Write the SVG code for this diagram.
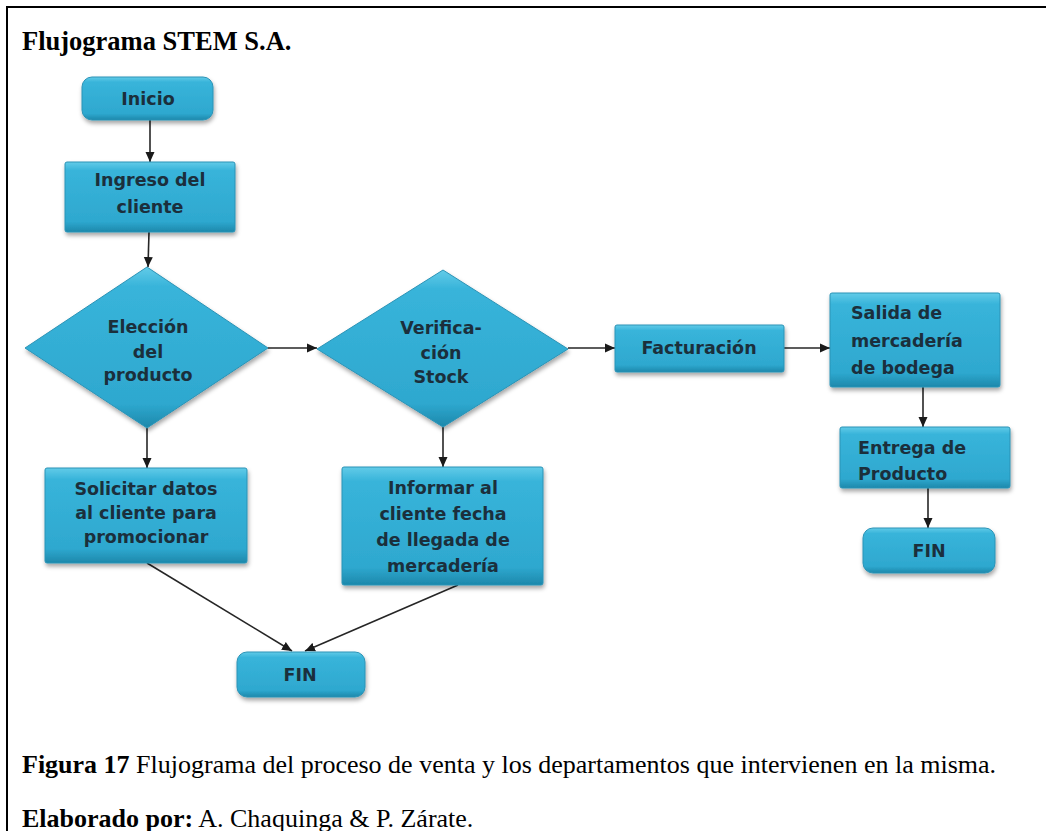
<svg xmlns="http://www.w3.org/2000/svg" width="1046" height="831" viewBox="0 0 1046 831">
  <style>
    .frame { stroke: #000; stroke-width: 2; fill: none; }
    .title { font-family: "Liberation Serif", "Times New Roman", serif; font-weight: bold; font-size: 26.5px; fill: #000; }
    .cap { font-family: "Liberation Serif", "Times New Roman", serif; font-size: 26px; fill: #000; }
    .capb { font-weight: bold; }
    .box { fill: url(#boxFill); stroke: #2b93b6; stroke-width: 1; filter: url(#shadow); }
    .lbl { font-family: "DejaVu Sans", "Liberation Sans", sans-serif; font-weight: bold; font-size: 17.5px; fill: #1b2f3c; }
    .mid { text-anchor: middle; }
    .edge { stroke: #262626; stroke-width: 1.6; fill: none; marker-end: url(#arrow); }
  </style>
  <defs>
    <linearGradient id="boxFill" x1="0" y1="0" x2="0" y2="1">
      <stop offset="0" stop-color="#62cbe8"/>
      <stop offset="0.12" stop-color="#38b4da"/>
      <stop offset="0.85" stop-color="#2ea8cf"/>
      <stop offset="1" stop-color="#1d88ab"/>
    </linearGradient>
    <filter id="shadow" x="-10%" y="-10%" width="120%" height="130%">
      <feDropShadow dx="1" dy="3" stdDeviation="2" flood-color="#000" flood-opacity="0.35"/>
    </filter>
    <marker id="arrow" viewBox="0 0 10 10" refX="10" refY="5" markerWidth="10" markerHeight="10" markerUnits="userSpaceOnUse" orient="auto">
      <path d="M0,0.5 L10,5 L0,9.5 z" fill="#1a1a1a"/>
    </marker>
  </defs>

  <rect width="1046" height="831" fill="#fff"/>
  <!-- page frame -->
  <path class="frame" d="M7,831 V7 H1046"/>

  <text class="title" x="22" y="50">Flujograma STEM S.A.</text>

  <!-- connectors -->
  <g id="connectors">
    <line class="edge" x1="150" y1="120" x2="150" y2="162"/>
    <line class="edge" x1="149" y1="232" x2="148" y2="267"/>
    <line class="edge" x1="268" y1="348" x2="317" y2="348"/>
    <line class="edge" x1="568" y1="348" x2="615" y2="348"/>
    <line class="edge" x1="784" y1="348" x2="830" y2="348"/>
    <line class="edge" x1="923" y1="387" x2="923" y2="427"/>
    <line class="edge" x1="928" y1="488" x2="928" y2="528"/>
    <line class="edge" x1="147" y1="428" x2="147" y2="468"/>
    <line class="edge" x1="443" y1="427" x2="443" y2="467"/>
    <line class="edge" x1="147" y1="563" x2="292" y2="651"/>
    <line class="edge" x1="458" y1="585" x2="305" y2="651"/>
  </g>

  <g id="inicio">
    <rect class="box" x="82" y="77" width="131" height="43" rx="10"/>
    <text class="lbl mid" x="148" y="105">Inicio</text>
  </g>

  <g id="ingreso">
    <rect class="box" x="65" y="162" width="170" height="70" rx="2"/>
    <text class="lbl mid" x="150" y="186">Ingreso del</text>
    <text class="lbl mid" x="150" y="213">cliente</text>
  </g>

  <g id="eleccion">
    <polygon class="box" points="147,267 268,348 147,428 25,348"/>
    <text class="lbl mid" x="148" y="333">Elección</text>
    <text class="lbl mid" x="148" y="358">del</text>
    <text class="lbl mid" x="148" y="381">producto</text>
  </g>

  <g id="verificacion">
    <polygon class="box" points="443,270 568,349 443,427 317,349"/>
    <text class="lbl mid" x="441" y="334">Verifica-</text>
    <text class="lbl mid" x="441" y="359">ción</text>
    <text class="lbl mid" x="441" y="383">Stock</text>
  </g>

  <g id="facturacion">
    <rect class="box" x="615" y="325" width="169" height="47" rx="2"/>
    <text class="lbl mid" x="699" y="354">Facturación</text>
  </g>

  <g id="salida">
    <rect class="box" x="830" y="293" width="170" height="94" rx="2"/>
    <text class="lbl" x="851" y="319">Salida de</text>
    <text class="lbl" x="851" y="347">mercadería</text>
    <text class="lbl" x="851" y="374">de bodega</text>
  </g>

  <g id="entrega">
    <rect class="box" x="840" y="427" width="170" height="61" rx="2"/>
    <text class="lbl" x="858" y="454">Entrega de</text>
    <text class="lbl" x="858" y="480">Producto</text>
  </g>

  <g id="fin-derecha">
    <rect class="box" x="863" y="528" width="132" height="45" rx="10"/>
    <text class="lbl mid" x="929" y="557">FIN</text>
  </g>

  <g id="solicitar">
    <rect class="box" x="45" y="468" width="202" height="95" rx="2"/>
    <text class="lbl mid" x="146" y="495">Solicitar datos</text>
    <text class="lbl mid" x="146" y="519">al cliente para</text>
    <text class="lbl mid" x="146" y="543">promocionar</text>
  </g>

  <g id="informar">
    <rect class="box" x="342" y="467" width="201" height="118" rx="2"/>
    <text class="lbl mid" x="443" y="494">Informar al</text>
    <text class="lbl mid" x="443" y="520">cliente fecha</text>
    <text class="lbl mid" x="443" y="546">de llegada de</text>
    <text class="lbl mid" x="443" y="572">mercadería</text>
  </g>

  <g id="fin-izquierda">
    <rect class="box" x="237" y="652" width="128" height="45" rx="10"/>
    <text class="lbl mid" x="300" y="681">FIN</text>
  </g>

  <text class="cap" x="22" y="773"><tspan class="capb">Figura 17</tspan> Flujograma del proceso de venta y los departamentos que intervienen en la misma.</text>
  <text class="cap" x="22" y="827"><tspan class="capb">Elaborado por:</tspan> A. Chaquinga &amp; P. Zárate.</text>
</svg>
